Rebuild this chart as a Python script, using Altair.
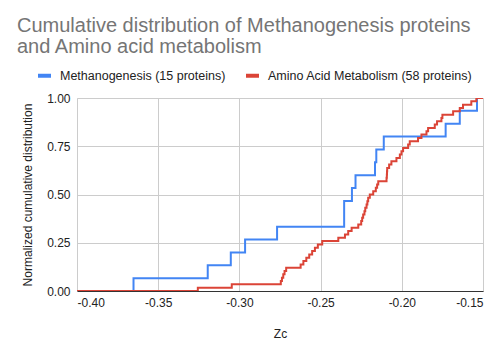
import altair as alt
import pandas as pd

# Zc values (sorted)
methanogenesis_zc = [-0.3652, -0.3195, -0.3053, -0.2965, -0.2768, -0.2355, -0.2355,
                     -0.2307, -0.2285, -0.2165, -0.2157, -0.2111, -0.1730, -0.1643, -0.1537]
amino_zc = [-0.3256, -0.3047, -0.2745, -0.2738, -0.2730, -0.2722, -0.2712, -0.2623,
            -0.2606, -0.2588, -0.2570, -0.2552, -0.2535, -0.2517, -0.2490, -0.2391,
            -0.2350, -0.2330, -0.2309, -0.2268, -0.2250, -0.2244, -0.2238, -0.2230,
            -0.2225, -0.2217, -0.2212, -0.2207, -0.2197, -0.2176, -0.2160, -0.2152,
            -0.2145, -0.2094, -0.2092, -0.2091, -0.2090, -0.2078, -0.2064, -0.2033,
            -0.2012, -0.2002, -0.1992, -0.1961, -0.1951, -0.1900, -0.1879, -0.1848,
            -0.1838, -0.1797, -0.1783, -0.1756, -0.1750, -0.1684, -0.1643, -0.1623,
            -0.1572, -0.1541]
series_names = ["Methanogenesis (15 proteins)", "Amino Acid Metabolism (58 proteins)"]
series_colors = ["#4285F4", "#DB4437"]
x_range = [-0.40, -0.15]
x_ticks = [-0.40, -0.35, -0.30, -0.25, -0.20, -0.15]
y_ticks = [0, 0.25, 0.5, 0.75, 1.0]

rows = []
for name, vals in zip(series_names, [methanogenesis_zc, amino_zc]):
    n = len(vals)
    rows.append({"series": name, "zc": x_range[0], "cdf": 0.0, "o": 0})
    for i, v in enumerate(sorted(vals)):
        rows.append({"series": name, "zc": v, "cdf": (i + 1) / n, "o": i + 1})
    rows.append({"series": name, "zc": x_range[1], "cdf": 1.0, "o": n + 1})
df = pd.DataFrame(rows)

FONT = "Liberation Sans"

chart = alt.Chart(df).mark_line(interpolate="step-after", strokeWidth=2, clip=True).encode(
    x=alt.X("zc:Q", title="Zc",
            scale=alt.Scale(domain=x_range, nice=False, zero=False),
            axis=alt.Axis(values=x_ticks,
                          labelExpr="replace(format(datum.value, '.2f'), '\u2212', '-')",
                          grid=True, gridColor="#cccccc",
                          domain=True, domainColor="#333333", ticks=False,
                          labelFontSize=12, labelColor="#222222", labelFont=FONT,
                          labelPadding=6, titleFont=FONT, titleFontSize=12,
                          titleFontWeight="normal", titleColor="#222222", titlePadding=20)),
    y=alt.Y("cdf:Q", title="Normalized cumulative distribution",
            scale=alt.Scale(domain=[0, 1], nice=False),
            axis=alt.Axis(values=y_ticks, format=".2f", grid=True, gridColor="#cccccc",
                          domain=False, ticks=False, labelFontSize=12, labelColor="#222222",
                          labelFont=FONT, labelPadding=7, titleFont=FONT, titleFontSize=12,
                          titleFontWeight="normal", titleColor="#222222", titlePadding=12)),
    color=alt.Color("series:N", scale=alt.Scale(domain=series_names, range=series_colors),
                    legend=alt.Legend(title=None, orient="none", direction="horizontal",
                                      legendX=-41, legendY=-31, symbolType="stroke",
                                      symbolStrokeWidth=4, symbolSize=169, labelFont=FONT,
                                      labelFontSize=12.5, labelColor="#222222", labelLimit=400,
                                      columnPadding=12, labelOffset=7)),
    order="o:Q",
).properties(
    width=406, height=193,
    padding={"left": 77, "top": 98, "right": 18, "bottom": 62},
    autosize=alt.AutoSizeParams(type="none"),
    title=alt.TitleParams(
        text=["Cumulative distribution of Methanogenesis proteins", "and Amino acid metabolism"],
        anchor="start", frame="group", dx=-60, offset=10, fontSize=20, lineHeight=21,
        font=FONT, color="#757575", fontWeight="normal"),
).configure_view(stroke=None).configure(background="white")

chart.save("out.html", embed_options={"renderer": "svg", "actions": False})
